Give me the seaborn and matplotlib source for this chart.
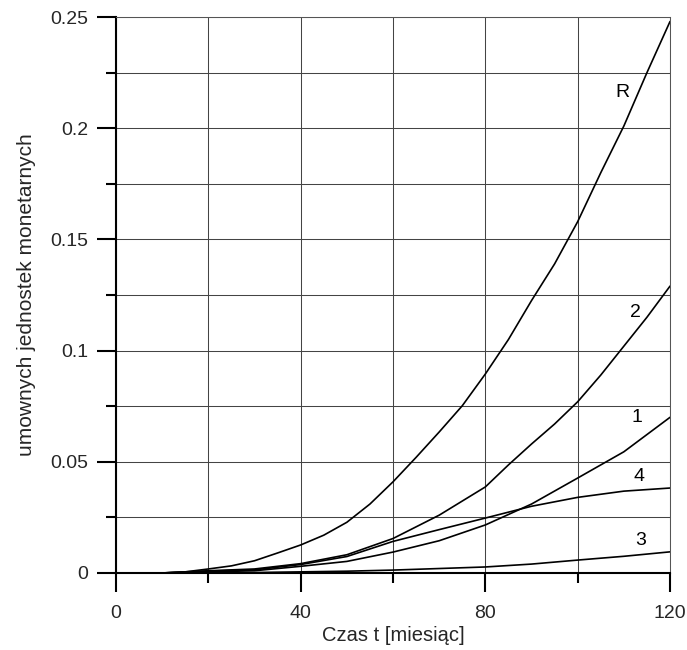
"""Recreate the 'umownych jednostek monetarnych' vs time chart."""

import matplotlib
matplotlib.use('Agg')
import matplotlib.pyplot as plt
import matplotlib.ticker as mticker
import seaborn as sns
import pandas as pd

sns.set_theme(style="ticks")
plt.rcParams['font.family'] = ['Liberation Sans', 'DejaVu Sans']

# Data (time in months)
t_fine = [10, 15, 20, 25, 30, 35, 40, 45, 50, 55, 60, 65, 70, 75, 80, 85, 90, 95,
          100, 105, 110, 115, 120]
curve_R = [0, 0.0005, 0.0018, 0.0032, 0.0055, 0.009, 0.0126, 0.017, 0.0228, 0.031,
           0.041, 0.052, 0.0634, 0.0752, 0.0895, 0.105, 0.1225, 0.139, 0.158, 0.18,
           0.201, 0.225, 0.248]

t_2 = [10, 20, 30, 40, 50, 60, 70, 80, 85, 90, 95, 100, 105, 110, 115, 120]
curve_2 = [0, 0.001, 0.0018, 0.0042, 0.0082, 0.0155, 0.026, 0.0387, 0.0486, 0.058,
           0.067, 0.077, 0.089, 0.102, 0.115, 0.129]

t = [10, 20, 30, 40, 50, 60, 70, 80, 90, 100, 110, 120]
curve_1 = [0, 0.0005, 0.001, 0.003, 0.0052, 0.0094, 0.0145, 0.0216, 0.031, 0.0427, 0.0545, 0.070]
curve_4 = [0, 0.0008, 0.0014, 0.0038, 0.0074, 0.0142, 0.0195, 0.0247, 0.030, 0.034, 0.0368, 0.0382]
curve_3 = [0, 0, 0.0002, 0.0005, 0.0008, 0.0013, 0.002, 0.0027, 0.004, 0.0058, 0.0075, 0.0095]

series = {'R': (t_fine, curve_R), '2': (t_2, curve_2), '1': (t, curve_1),
          '4': (t, curve_4), '3': (t, curve_3)}
df = pd.concat([pd.DataFrame({'t': x, 'y': v, 'curve': k}) for k, (x, v) in series.items()])

# where the curve names sit (data coords)
label_pos = {'R': (109.6, 0.216), '2': (112.4, 0.117), '1': (112.9, 0.0697),
             '4': (113.3, 0.0436), '3': (113.7, 0.0144)}

fig = plt.figure(figsize=(6.87, 6.5), dpi=100)
ax = fig.add_axes([0.1689, 0.1185, 0.8064, 0.8553])

sns.lineplot(data=df, x='t', y='y', hue='curve', palette=['black'] * 5,
             estimator=None, legend=False, linewidth=1.2, ax=ax)

for name, (lx, ly) in label_pos.items():
    ax.text(lx, ly, name, ha='center', va='center', fontsize=14, color='black')

ax.set_xlim(0, 120)
ax.set_ylim(0, 0.25)
ax.xaxis.set_major_locator(mticker.MultipleLocator(40))
ax.xaxis.set_minor_locator(mticker.MultipleLocator(20))
ax.yaxis.set_major_locator(mticker.MultipleLocator(0.05))
ax.yaxis.set_minor_locator(mticker.MultipleLocator(0.025))
ax.yaxis.set_major_formatter(mticker.FuncFormatter(lambda v, p: f'{v:g}'))

ax.grid(True, which='both', color='#444444', linewidth=0.75)
ax.set_axisbelow(True)

for s in ['top', 'right']:
    ax.spines[s].set_color('#555555')
    ax.spines[s].set_linewidth(0.75)
for s in ['left', 'bottom']:
    ax.spines[s].set_color('black')
    ax.spines[s].set_linewidth(1.5)

ax.tick_params(which='major', direction='out', length=14, width=1.5, color='black',
               labelsize=14, pad=6)
ax.tick_params(axis='x', which='major', pad=9)
ax.tick_params(which='minor', direction='out', length=7.5, width=1.5, color='black')

ax.set_xlabel('Czas t [miesiąc]', fontsize=14.5, labelpad=3)
ax.set_ylabel('umownych jednostek monetarnych', fontsize=15, labelpad=10)

fig.savefig('out.png', dpi=100, facecolor='white')
